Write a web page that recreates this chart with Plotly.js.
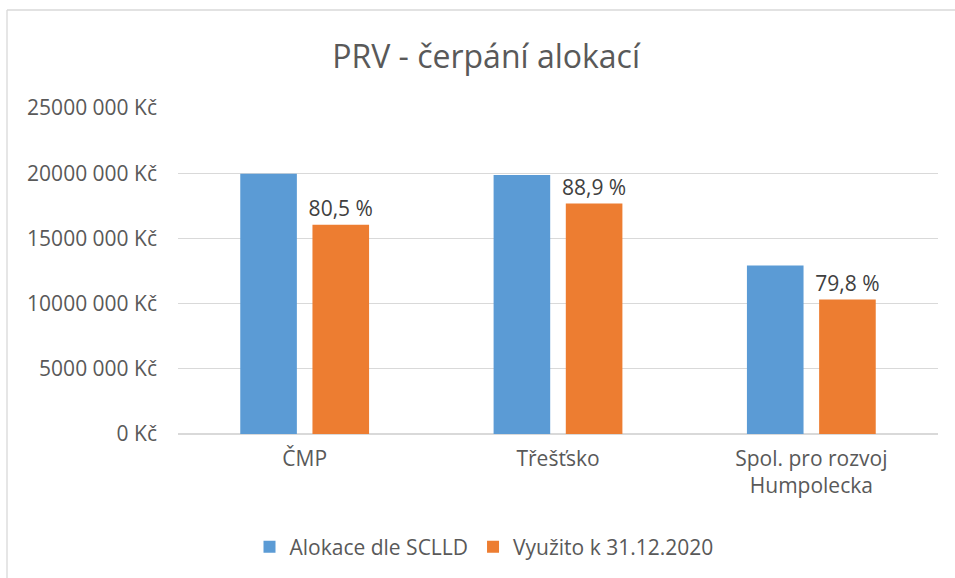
<!DOCTYPE html>
<html>
<head>
<meta charset="utf-8">
<script src="https://cdn.plot.ly/plotly-3.0.1.min.js"></script>
<style>html,body{margin:0;padding:0;background:#fff;}#chart{width:955px;height:578px;}</style>
</head>
<body>
<div id="chart"></div>
<script>
const categories = ["ČMP", "Třešťsko", "Spol. pro rozvoj<br>Humpolecka"];
const alokace = [19950000, 19870000, 12920000];
const vyuzito = [16050000, 17670000, 10310000];
const vyuzitoLabels = ["80,5 %", "88,9 %", "79,8 %"];
const seriesNames = ["Alokace dle SCLLD", "Využito k 31.12.2020"];
const tickVals = [0, 5000000, 10000000, 15000000, 20000000, 25000000];
const tickText = ["0 Kč", "5000 000 Kč", "10000 000 Kč", "15000 000 Kč", "20000 000 Kč", "25000 000 Kč"];

const W = 955, H = 578;
const M = {l: 178, r: 17, t: 108, b: 144};
const pw = W - M.l - M.r, ph = H - M.t - M.b;
const font = "Open Sans, Noto Sans, sans-serif";
const txt = "#595959";

const data = [
  {type: "bar", name: seriesNames[0], x: categories, y: alokace,
   marker: {color: "#5B9BD5"}, hoverinfo: "none"},
  {type: "bar", name: seriesNames[1], x: categories, y: vyuzito,
   marker: {color: "#ED7D31"}, text: vyuzitoLabels, textposition: "outside", constraintext: "none",
   textfont: {family: font, size: 21, color: "#404040"}, cliponaxis: false, hoverinfo: "none"}
];

const layout = {
  width: W, height: H,
  margin: M,
  paper_bgcolor: "#fff", plot_bgcolor: "#fff",
  font: {family: font, color: txt, size: 21},
  title: {text: "PRV - čerpání alokací", x: 0.509, xanchor: "center", y: 1 - 57 / H, yanchor: "middle",
          font: {family: font, size: 32, color: txt}},
  barmode: "group", bargap: 0.43, bargroupgap: 0.216,
  xaxis: {type: "category", showgrid: false, zeroline: false, showline: false, ticks: "",
          tickfont: {family: font, size: 21, color: txt}, ticklabelstandoff: 10},
  yaxis: {range: [0, 25000000], tickvals: tickVals, ticktext: tickText, showgrid: true,
          gridcolor: "#D9D9D9", gridwidth: 1.3, zeroline: true, zerolinecolor: "#D9D9D9", zerolinewidth: 1.3,
          showline: false, ticks: "", ticklabelstandoff: 20,
          tickfont: {family: font, size: 21, color: txt}},
  showlegend: true,
  legend: {orientation: "h", xref: "container", yref: "container", x: 484 / W, xanchor: "center",
           y: 1 - 547 / H, yanchor: "middle", font: {family: font, size: 21, color: txt},
           itemwidth: 30, traceorder: "normal"},
  shapes: [
    {type: "line", xref: "paper", yref: "paper", x0: (7 - M.l) / pw, x1: (7 - M.l) / pw,
     y0: (H - M.b - 10) / ph, y1: -(M.b + 5) / ph, line: {color: "#D9D9D9", width: 1.3}},
    {type: "line", xref: "paper", yref: "paper", x0: (7 - M.l) / pw, x1: (W + 5 - M.l) / pw,
     y0: (H - M.b - 10) / ph, y1: (H - M.b - 10) / ph, line: {color: "#D9D9D9", width: 1.3}}
  ]
};

Plotly.newPlot("chart", data, layout, {staticPlot: true, displayModeBar: false});
</script>
</body>
</html>
